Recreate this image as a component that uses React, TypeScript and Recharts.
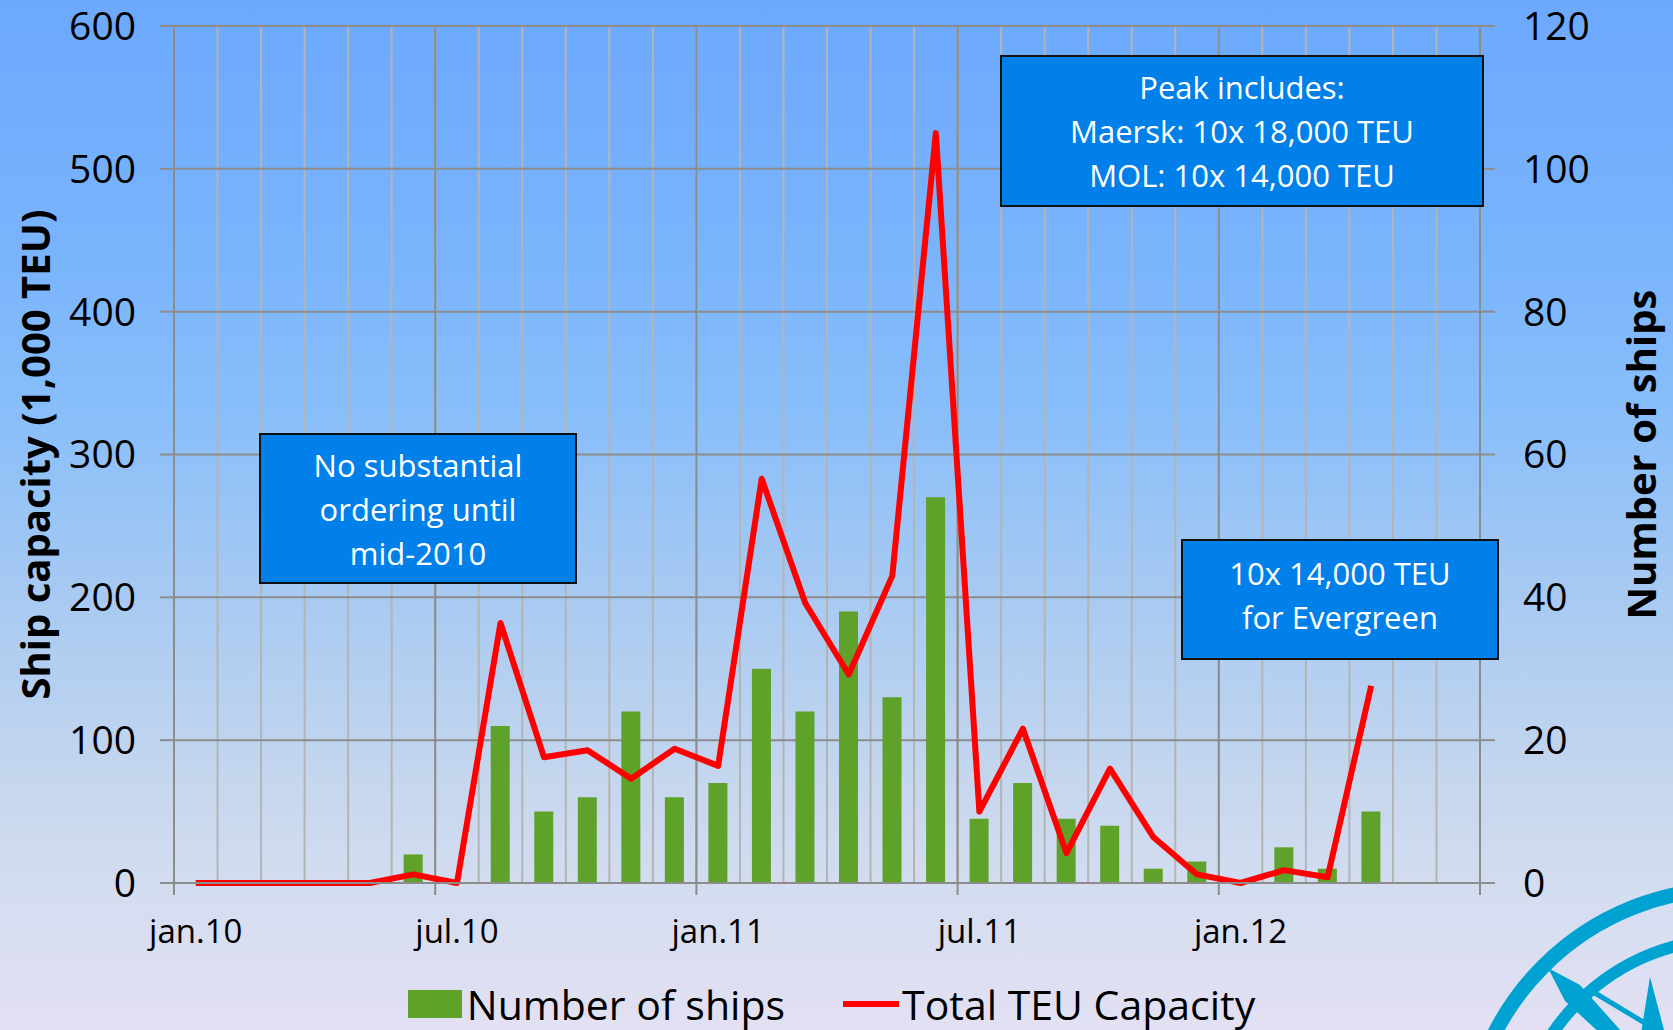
import React from 'react';
import {
  ComposedChart,
  Bar,
  Line,
  XAxis,
  YAxis,
  CartesianGrid,
  Legend,
} from 'recharts';

// ---------- data ----------
const months = [
  'jan.10', 'feb.10', 'mar.10', 'apr.10', 'may.10', 'jun.10',
  'jul.10', 'aug.10', 'sep.10', 'oct.10', 'nov.10', 'dec.10',
  'jan.11', 'feb.11', 'mar.11', 'apr.11', 'may.11', 'jun.11',
  'jul.11', 'aug.11', 'sep.11', 'oct.11', 'nov.11', 'dec.11',
  'jan.12', 'feb.12', 'mar.12', 'apr.12', 'may.12', 'jun.12',
];

// Number of ships (right axis)
const shipCounts: (number | null)[] = [
  0, 0, 0, 0, 0, 4,
  0, 22, 10, 12, 24, 12,
  14, 30, 24, 38, 26, 54,
  9, 14, 9, 8, 2, 3,
  0, 5, 2, 10, null, null,
];

// Total TEU capacity, 1,000 TEU (left axis)
const teuCapacity: (number | null)[] = [
  0, 0, 0, 0, 0, 6,
  0, 182, 88, 93, 73, 94,
  82, 283, 196, 146, 215, 525,
  50, 108, 21, 80, 32, 6,
  0, 9, 4, 138, null, null,
];

const xTickLabels = ['jan.10', 'jul.10', 'jan.11', 'jul.11', 'jan.12'];
const leftTicks = [0, 100, 200, 300, 400, 500, 600];
const rightTicks = [0, 20, 40, 60, 80, 100, 120];

const seriesNames = { ships: 'Number of ships', teu: 'Total TEU Capacity' };
const axisTitles = { left: 'Ship capacity (1,000 TEU)', right: 'Number of ships' };

const annotations = {
  early: ['No substantial', 'ordering until', 'mid-2010'],
  peak: ['Peak includes:', 'Maersk: 10x 18,000 TEU', 'MOL: 10x 14,000 TEU'],
  evergreen: ['10x 14,000 TEU', 'for Evergreen'],
};

const data = months.map((m, i) => ({
  month: m,
  ships: shipCounts[i],
  teu: teuCapacity[i],
}));

// ---------- style ----------
const FONT = '"Open Sans", "Noto Sans", sans-serif';
const GRID_DARK = '#8C8C8C';
const GRID_LIGHT = '#B4B4B4';
const BAR_GREEN = '#5FA22A';
const LINE_RED = '#FF0000';
const BOX_BLUE = '#0080E8';

const lastMonth = months[months.length - 1];

const XTick = (props: any) => {
  const { x, y, payload, width } = props;
  const half =
    payload && typeof payload.offset === 'number' && payload.offset > 0
      ? payload.offset
      : (width || 1306) / months.length / 2;
  const isEnd = payload.value === lastMonth;
  const lx = isEnd ? x + half : x - half;
  return (
    <g>
      <line x1={lx} x2={lx} y1={y} y2={y + 12} stroke={GRID_DARK} strokeWidth={2} />
      {!isEnd && (
        <text x={x} y={y + 60} textAnchor="middle" fontSize={33} fontFamily={FONT} fill="#000">
          {payload.value}
        </text>
      )}
    </g>
  );
};

const boundaries = (offset: any, every: number) => {
  const n = months.length;
  const step = offset.width / n;
  const out: number[] = [];
  for (let i = 0; i <= n; i++) {
    if (i % every === 0) out.push(offset.left + i * step);
  }
  return out;
};

const LegendContent = () => (
  <div
    style={{
      display: 'flex',
      justifyContent: 'center',
      alignItems: 'center',
      height: 46,
      lineHeight: '46px',
      fontFamily: FONT,
      fontSize: 41,
      color: '#000',
      whiteSpace: 'nowrap',
      paddingRight: 10,
    }}
  >
    <span style={{ display: 'inline-block', width: 54, height: 28, background: BAR_GREEN, marginRight: 5 }} />
    <span>{seriesNames.ships}</span>
    <span style={{ display: 'inline-block', width: 56, height: 6, background: LINE_RED, marginLeft: 58, marginRight: 3 }} />
    <span>{seriesNames.teu}</span>
  </div>
);

const Box = ({ left, top, width, height, lines, shiftUp = 0 }: any) => (
  <div
    style={{
      position: 'absolute',
      left,
      top,
      width,
      height,
      boxSizing: 'border-box',
      background: BOX_BLUE,
      border: '2px solid #111',
      color: '#fff',
      fontFamily: FONT,
      fontSize: 31,
      lineHeight: '44px',
      display: 'flex',
      flexDirection: 'column',
      justifyContent: 'center',
      alignItems: 'center',
      textAlign: 'center',
      whiteSpace: 'nowrap',
      paddingBottom: shiftUp * 2,
    }}
  >
    {lines.map((t: string) => (
      <div key={t}>{t}</div>
    ))}
  </div>
);

const Logo = () => {
  const cx = 1730;
  const cy = 1153;
  const c = '#00A2D2';
  return (
    <svg
      width={1673}
      height={1030}
      style={{ position: 'absolute', left: 0, top: 0, pointerEvents: 'none' }}
    >
      <circle cx={cx} cy={cy} r={264} fill="none" stroke={c} strokeWidth={15} />
      <circle cx={cx} cy={cy} r={214} fill="none" stroke={c} strokeWidth={12} />
      <polygon points={`1548,968 1580,985 ${cx},${cy} 1565,1001`} fill={c} />
      <polygon points={`1650,977 1672,1060 ${cx},${cy} 1636,1065`} fill={c} />
      <line x1={1590} y1={990} x2={1673} y2={1040} stroke={c} strokeWidth={5} />
    </svg>
  );
};

export default function App() {
  return (
    <div
      style={{
        position: 'absolute',
        left: 0,
        top: 0,
        width: 1673,
        height: 1030,
        overflow: 'hidden',
        fontFamily: FONT,
        background:
          'linear-gradient(to bottom, #6CA8FD 0%, #7AB4FC 25%, #88BEFA 40%, #A6C9F2 57%, #C4D6EE 75%, #D5DDF0 87%, #E3E0F3 100%)',
      }}
    >
      <Logo />
      <ComposedChart
        width={1673}
        height={1030}
        data={data}
        margin={{ top: 26, right: 0, bottom: 0, left: 0 }}
        style={{ position: 'absolute', left: 0, top: 0 }}
      >
        <CartesianGrid
          xAxisId="x"
          yAxisId="left"
          horizontal={false}
          stroke={GRID_LIGHT}
          strokeWidth={2}
          verticalCoordinatesGenerator={({ offset }: any) => boundaries(offset, 1)}
        />
        <CartesianGrid
          xAxisId="x"
          yAxisId="left"
          horizontal={false}
          stroke={GRID_DARK}
          strokeWidth={2}
          verticalCoordinatesGenerator={({ offset }: any) => boundaries(offset, 6)}
        />
        <CartesianGrid
          xAxisId="x"
          yAxisId="left"
          vertical={false}
          stroke={GRID_DARK}
          strokeWidth={2}
        />
        <XAxis
          xAxisId="x"
          dataKey="month"
          type="category"
          height={147}
          ticks={[...xTickLabels, lastMonth]}
          interval={0}
          tickSize={0}
          tickMargin={0}
          tickLine={false}
          axisLine={{ stroke: GRID_DARK, strokeWidth: 2 }}
          tick={<XTick />}
        />
        <YAxis
          yAxisId="left"
          orientation="left"
          width={174}
          domain={[0, 600]}
          ticks={leftTicks}
          interval={0}
          tickSize={14}
          tickMargin={24}
          tickLine={{ stroke: GRID_DARK, strokeWidth: 2 }}
          axisLine={{ stroke: GRID_DARK, strokeWidth: 2 }}
          tick={{ fontSize: 39, fill: '#000', fontFamily: FONT }}
          label={{
            content: ({ viewBox }: any) => {
              const x = viewBox.x + 34;
              const y = viewBox.y + viewBox.height / 2;
              return (
                <text
                  x={x}
                  y={y}
                  transform={`rotate(-90, ${x}, ${y})`}
                  textAnchor="middle"
                  dominantBaseline="central"
                  fontSize={40}
                  fontWeight="bold"
                  fontFamily={FONT}
                  fill="#000"
                >
                  {axisTitles.left}
                </text>
              );
            },
          }}
        />
        <YAxis
          yAxisId="right"
          orientation="right"
          width={193}
          domain={[0, 120]}
          ticks={rightTicks}
          interval={0}
          tickSize={15}
          tickMargin={28}
          tickLine={{ stroke: GRID_DARK, strokeWidth: 2 }}
          axisLine={{ stroke: GRID_DARK, strokeWidth: 2 }}
          tick={{ fontSize: 39, fill: '#000', fontFamily: FONT }}
          label={{
            content: ({ viewBox }: any) => {
              const x = viewBox.x + 160;
              const y = viewBox.y + viewBox.height / 2;
              return (
                <text
                  x={x}
                  y={y}
                  transform={`rotate(-90, ${x}, ${y})`}
                  textAnchor="middle"
                  dominantBaseline="central"
                  fontSize={40}
                  fontWeight="bold"
                  fontFamily={FONT}
                  fill="#000"
                >
                  {axisTitles.right}
                </text>
              );
            },
          }}
        />
        <Legend
          verticalAlign="middle"
          align="center"
          layout="horizontal"
          wrapperStyle={{ top: 981, left: 0, width: 1673 }}
          content={<LegendContent />}
        />
        <Bar
          xAxisId="x"
          yAxisId="right"
          dataKey="ships"
          name={seriesNames.ships}
          fill={BAR_GREEN}
          barSize={19}
          isAnimationActive={false}
        />
        <Line
          xAxisId="x"
          yAxisId="left"
          dataKey="teu"
          name={seriesNames.teu}
          stroke={LINE_RED}
          strokeWidth={6}
          strokeLinejoin="round"
          dot={false}
          activeDot={false}
          isAnimationActive={false}
        />
      </ComposedChart>
      <Box left={259} top={433} width={318} height={151} lines={annotations.early} />
      <Box left={1000} top={55} width={484} height={152} lines={annotations.peak} />
      <Box left={1181} top={539} width={318} height={121} lines={annotations.evergreen} shiftUp={5} />
    </div>
  );
}
